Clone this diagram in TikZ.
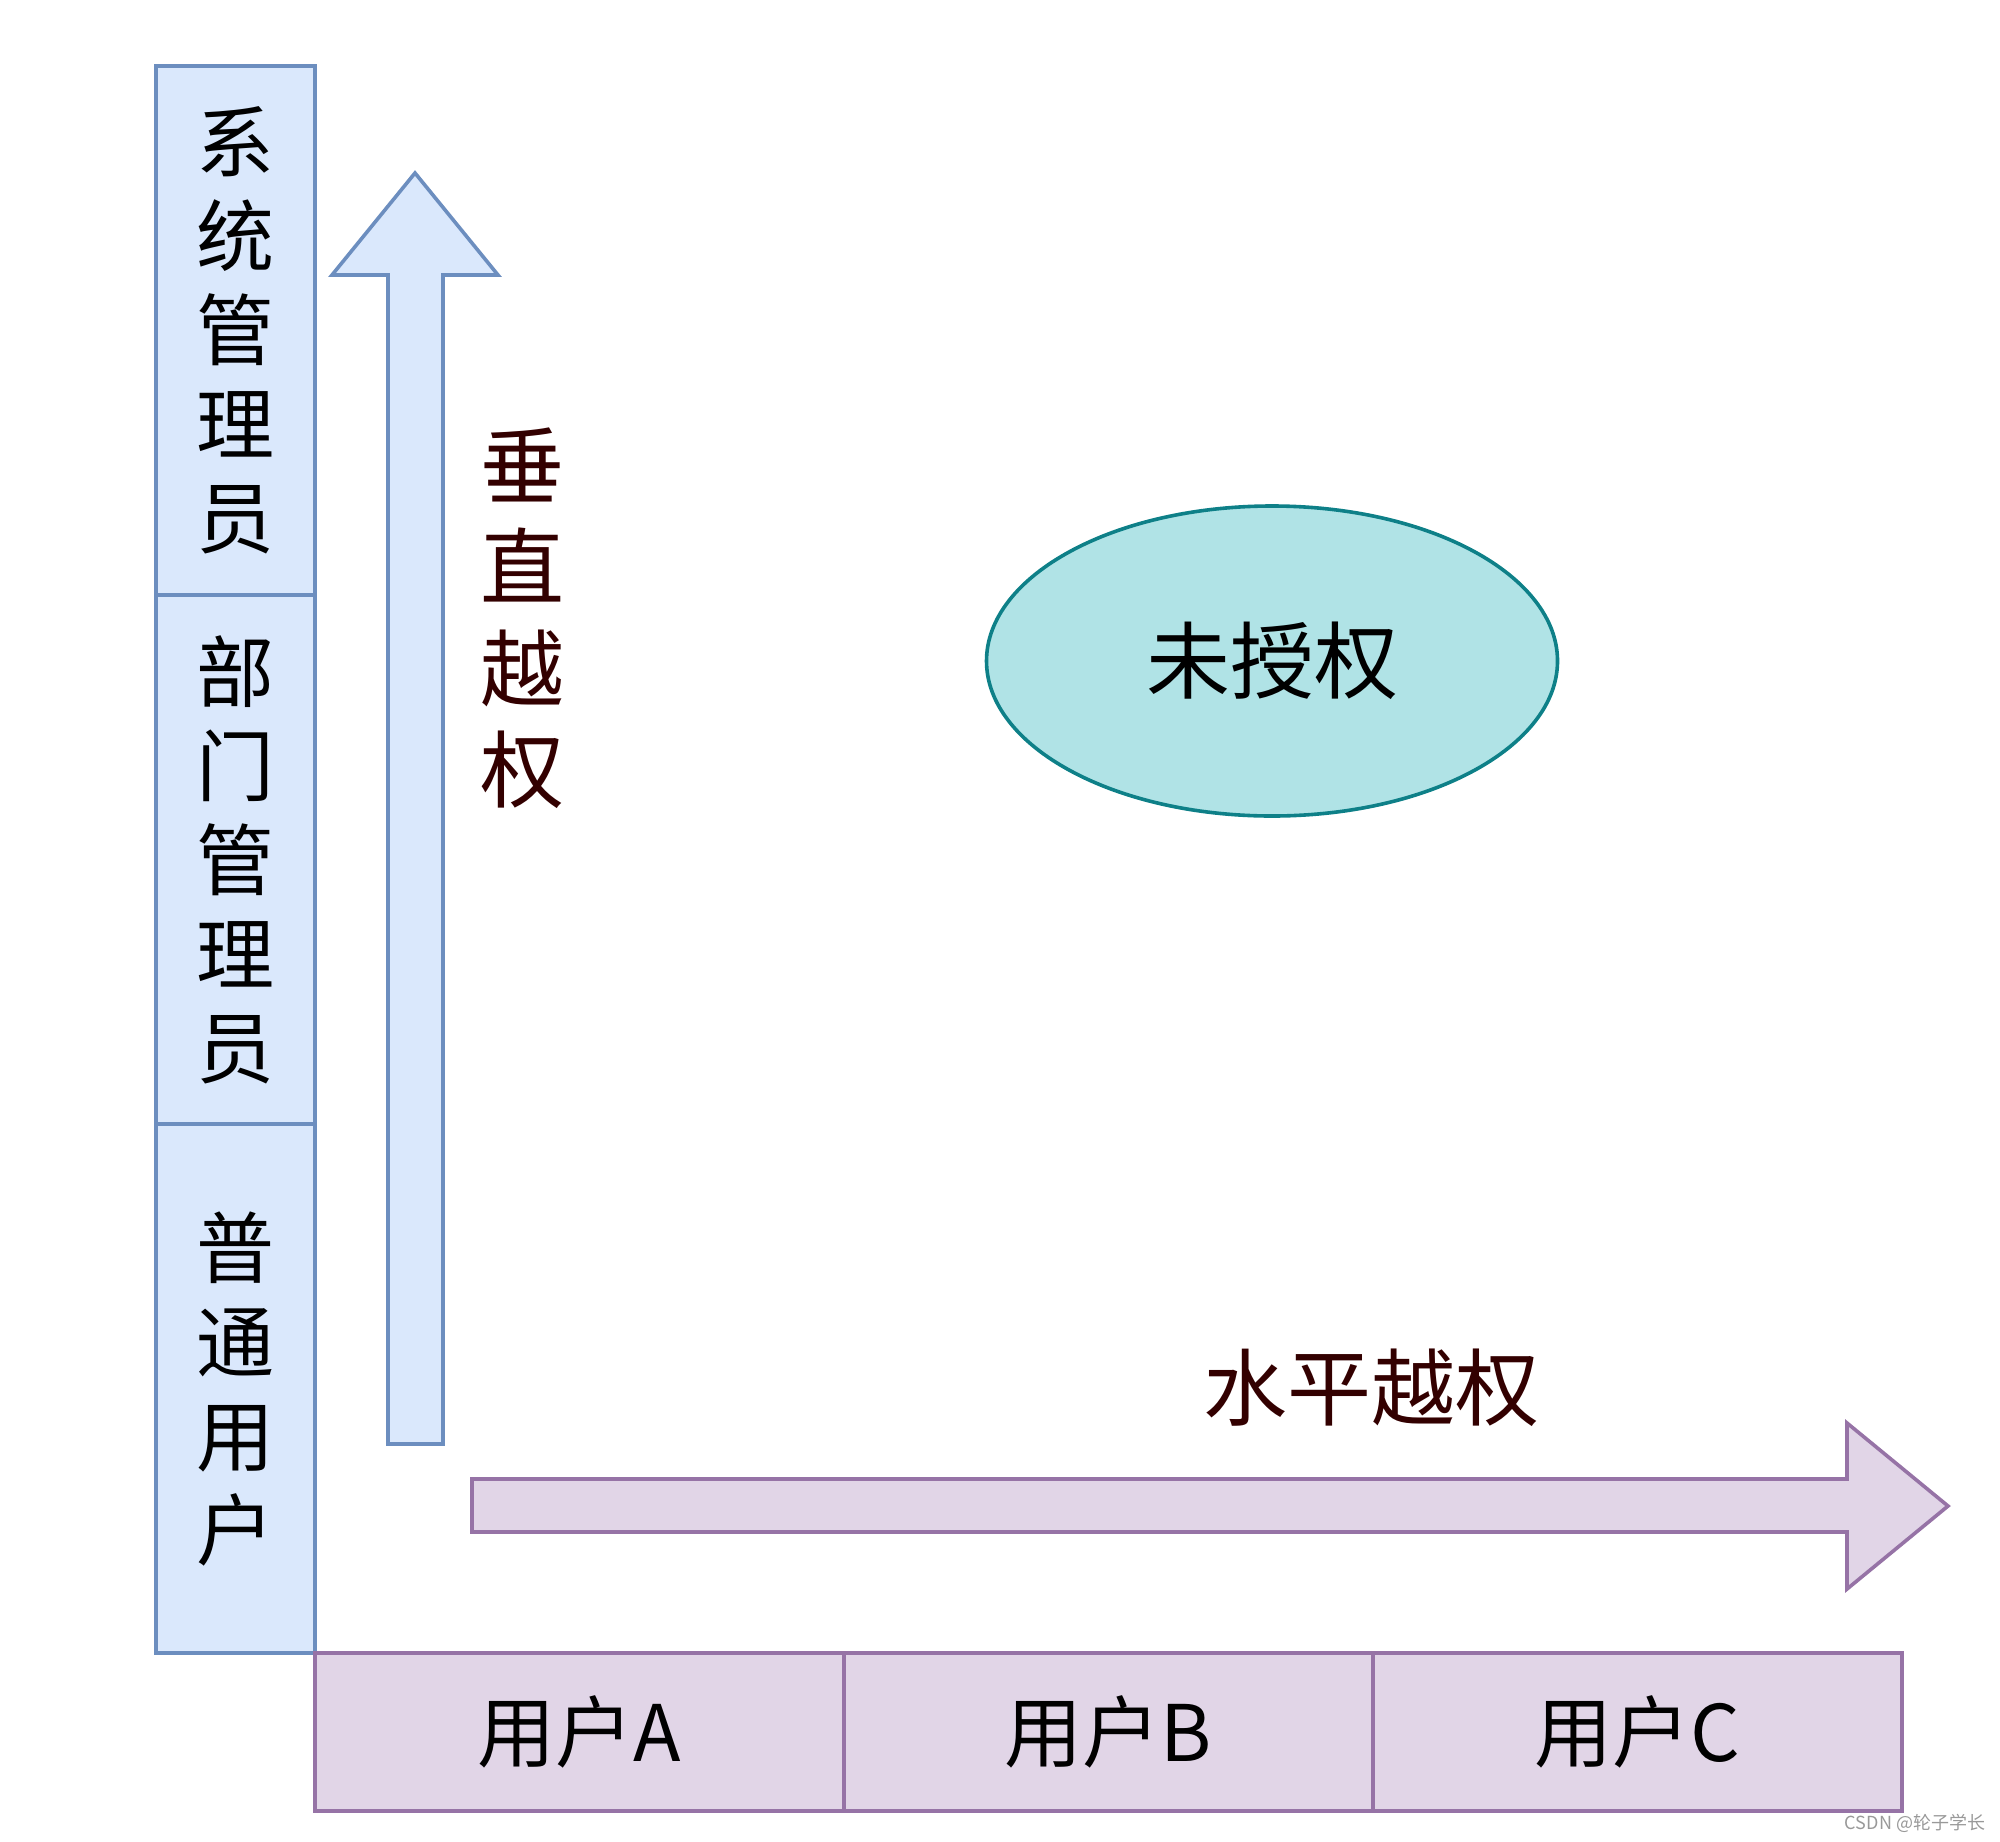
\documentclass[tikz,border=0pt]{standalone}
\usepackage{fontspec}
\setmainfont{Noto Sans CJK SC}
\usepackage{tikz}
\usetikzlibrary{positioning, shapes.geometric}
\usepackage{xcolor}
\definecolor{roleFill}{HTML}{DAE8FC}
\definecolor{roleLine}{HTML}{6C8EBF}
\definecolor{userFill}{HTML}{E1D5E7}
\definecolor{userLine}{HTML}{9673A6}
\definecolor{authFill}{HTML}{B0E3E6}
\definecolor{authLine}{HTML}{0E8088}
\definecolor{escText}{HTML}{330000}

\begin{document}
\begin{tikzpicture}[x=0.5pt, y=-0.5pt,
	role/.style={rectangle, draw=roleLine, fill=roleFill, line width=1.8pt,
		minimum width=79.5pt, minimum height=264.5pt, inner sep=0pt, outer sep=0pt,
		align=center, font=\fontsize{39pt}{47pt}\selectfont},
	user/.style={rectangle, draw=userLine, fill=userFill, line width=1.8pt,
		minimum width=264.5pt, minimum height=79pt, inner sep=0pt, outer sep=0pt,
		font=\fontsize{39pt}{47pt}\selectfont},
	escalation/.style={text=escText, align=center, inner sep=0pt,
		font=\fontsize{42pt}{50.75pt}\selectfont}]
	\useasboundingbox (0,0) rectangle (2000,1841);
	% roles, bottom to top
	\node[role, anchor=north west] (sysadmin) at (156,66) {系\\统\\管\\理\\员};
	\node[role, below=0pt of sysadmin] (deptadmin) {部\\门\\管\\理\\员};
	\node[role, below=0pt of deptadmin] (normaluser) {普\\通\\用\\户};
	% users
	\node[user, anchor=north west] (userA) at (normaluser.south east) {用户A};
	\node[user, right=0pt of userA] (userB) {用户B};
	\node[user, right=0pt of userB] (userC) {用户C};
	% big arrows
	\draw[roleLine, fill=roleFill, line width=1.8pt] (388,1444) -- (388,275) -- (332,275)
		-- (415,173) -- (498,275) -- (443,275) -- (443,1444) -- cycle;
	\draw[userLine, fill=userFill, line width=1.8pt] (472,1479) -- (1847,1479) -- (1847,1423)
		-- (1948,1506) -- (1847,1589) -- (1847,1532) -- (472,1532) -- cycle;
	\node[escalation] (vertical) at (522,618) {垂\\直\\越\\权};
	\node[escalation] (horizontal) at (1371,1388) {水平越权};
	\node[ellipse, draw=authLine, fill=authFill, line width=1.8pt, minimum width=285.5pt,
		minimum height=155pt, inner sep=0pt, font=\fontsize{42pt}{48pt}\selectfont]
		(unauth) at (1272,661) {未授权};
	\node[text=black!40, font=\fontsize{9pt}{10pt}\selectfont] (mark) at (1915,1823) {CSDN @轮子学长};
\end{tikzpicture}
\end{document}
